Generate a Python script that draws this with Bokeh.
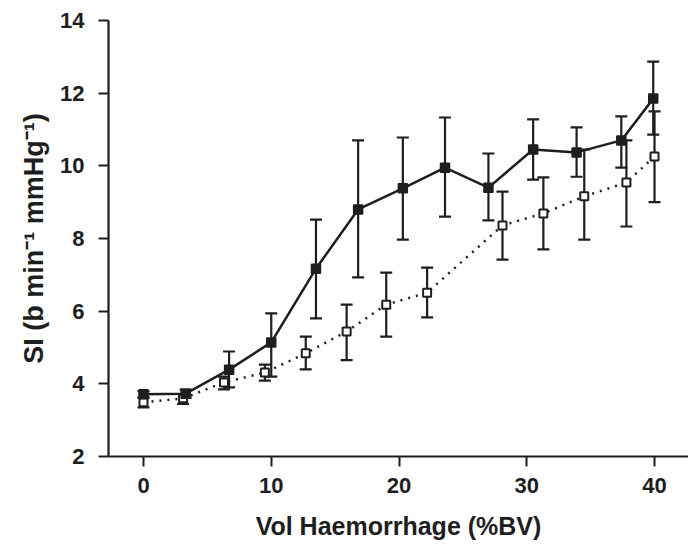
from bokeh.plotting import figure
from bokeh.models import ColumnDataSource, Whisker, TeeHead, Range1d, FixedTicker
from bokeh.embed import file_html
from bokeh.resources import INLINE

# Solid series (filled squares)
solid_x = [0, 3.3, 6.7, 10.0, 13.5, 16.8, 20.3, 23.6, 27.0, 30.5, 33.9, 37.4, 39.9]
solid_y = [3.71, 3.73, 4.39, 5.14, 7.17, 8.80, 9.38, 9.95, 9.40, 10.45, 10.37, 10.70, 11.85]
solid_lo = [3.62, 3.62, 3.90, 4.20, 5.80, 6.93, 7.97, 8.60, 8.50, 9.62, 9.70, 9.95, 10.86]
solid_hi = [3.80, 3.84, 4.89, 5.94, 8.52, 10.70, 10.78, 11.33, 10.34, 11.28, 11.06, 11.36, 12.87]

# Dotted series (open squares)
dot_x = [0, 3.1, 6.3, 9.5, 12.7, 15.9, 19.0, 22.2, 28.1, 31.3, 34.5, 37.8, 40.0]
dot_y = [3.49, 3.60, 4.04, 4.31, 4.84, 5.44, 6.18, 6.51, 8.36, 8.69, 9.16, 9.54, 10.26]
dot_lo = [3.35, 3.45, 3.85, 4.09, 4.40, 4.65, 5.30, 5.83, 7.42, 7.70, 7.97, 8.33, 9.00]
dot_hi = [3.62, 3.72, 4.20, 4.53, 5.30, 6.18, 7.06, 7.20, 9.29, 9.68, 10.45, 10.70, 11.50]

x_ticks = [0, 10, 20, 30, 40]
y_ticks = [2, 4, 6, 8, 10, 12, 14]

INK = "#1e1e1e"
FONT = "Liberation Sans"

p = figure(width=688, height=544, output_backend="svg", toolbar_location=None,
           x_range=Range1d(-2.74, 42.66), y_range=Range1d(2, 14),
           min_border_left=108, min_border_right=0, min_border_top=20,
           min_border_bottom=88)
p.outline_line_color = None
p.grid.visible = False
p.background_fill_color = "white"
p.border_fill_color = "white"

for ax in (p.xaxis[0], p.yaxis[0]):
    ax.axis_line_color = INK
    ax.axis_line_width = 2.2
    ax.major_tick_line_color = INK
    ax.major_tick_line_width = 2
    ax.major_tick_out = 10
    ax.major_tick_in = 0
    ax.minor_tick_line_color = None
    ax.major_label_text_font = FONT
    ax.major_label_text_font_size = "22px"
    ax.major_label_text_font_style = "bold"
    ax.major_label_text_color = INK
    ax.axis_label_text_font = FONT
    ax.axis_label_text_font_style = "bold"
    ax.axis_label_text_color = INK

p.xaxis.ticker = FixedTicker(ticks=x_ticks)
p.yaxis.ticker = FixedTicker(ticks=y_ticks)
p.xaxis.major_label_standoff = 11
p.yaxis.major_label_standoff = 14
p.xaxis.axis_label = "Vol Haemorrhage (%BV)"
p.xaxis.axis_label_text_font_size = "25px"
p.xaxis.axis_label_standoff = 16
p.yaxis.axis_label = "SI (b min\u207b\u00b9 mmHg\u207b\u00b9)"
p.yaxis.axis_label_text_font_size = "27px"
p.yaxis.axis_label_standoff = 8

src_s = ColumnDataSource(dict(x=solid_x, y=solid_y, lo=solid_lo, hi=solid_hi))
src_d = ColumnDataSource(dict(x=dot_x, y=dot_y, lo=dot_lo, hi=dot_hi))

for src in (src_d, src_s):
    w = Whisker(source=src, base="x", lower="lo", upper="hi",
                line_color=INK, line_width=2.2,
                lower_head=TeeHead(size=12, line_color=INK, line_width=2.2),
                upper_head=TeeHead(size=12, line_color=INK, line_width=2.2))
    p.add_layout(w)

p.line("x", "y", source=src_d, line_color=INK, line_width=2.5, line_dash="2 6")
p.line("x", "y", source=src_s, line_color=INK, line_width=2.5)
p.scatter("x", "y", source=src_d, marker="square", size=8, fill_color="white",
          line_color=INK, line_width=2)
p.scatter("x", "y", source=src_s, marker="square", size=9, fill_color=INK,
          line_color=INK, line_width=1.5)

open("out.html", "w").write(file_html(p, INLINE))
